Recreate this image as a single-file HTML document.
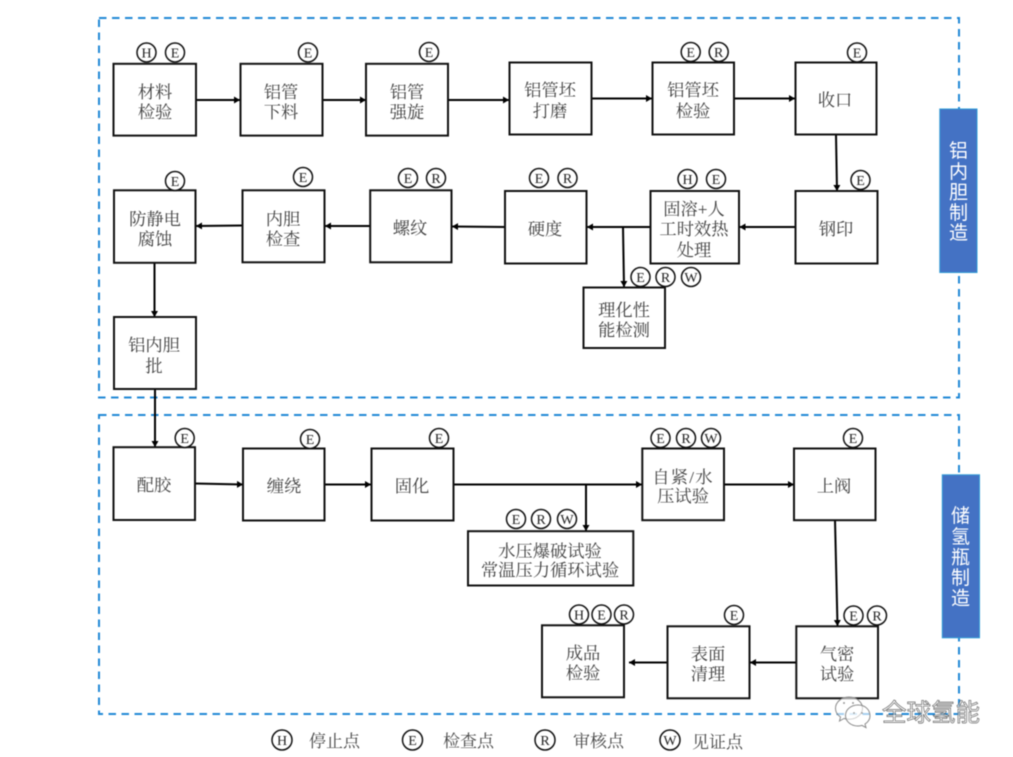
<!DOCTYPE html>
<html><head><meta charset="utf-8">
<style>
html,body{margin:0;padding:0;background:#fff;width:1013px;height:757px;overflow:hidden}
svg{display:block;filter:blur(.45px)}
.b{fill:#fff;stroke:#111;stroke-width:2}
.l{stroke:#000;stroke-width:2;fill:none;marker-end:url(#a)}
.d{fill:none;stroke:#2188d6;stroke-width:2;stroke-dasharray:7.500 5.500}
.t{font-family:"Liberation Serif","Noto Serif CJK SC",serif;font-size:17.300px;fill:#404040;text-anchor:middle}
.g{font-family:"Liberation Serif","Noto Serif CJK SC",serif;font-size:17px;fill:#454545;text-anchor:start}
.s{font-family:"Liberation Sans","Noto Sans CJK SC",sans-serif;font-size:19px;fill:#fff;text-anchor:middle}
.c circle{fill:#fff;stroke:#111;stroke-width:1.500}
.c text{font-family:"Liberation Serif",serif;font-size:14px;fill:#222;text-anchor:middle}
</style></head><body>
<svg width="1013" height="757" viewBox="0 0 1013 757" xmlns="http://www.w3.org/2000/svg">
<defs><marker id="a" markerUnits="userSpaceOnUse" markerWidth="7" markerHeight="7" refX="6" refY="3.500" orient="auto"><path d="M0 0L6 3.500L0 7Z" fill="#000"/></marker></defs>

<rect class="d" x="99" y="18" width="860" height="379.500"/>
<rect class="d" x="99" y="415" width="860" height="299"/>

<path class="l" d="M196 100H240"/>
<path class="l" d="M323 100H366"/>
<path class="l" d="M448 100H509"/>
<path class="l" d="M592 98.500H652"/>
<path class="l" d="M734 98.500H795"/>
<path class="l" d="M836 135L837 191"/>
<path class="l" d="M795 227H739.500"/>
<path class="l" d="M650 227H587"/>
<path class="l" d="M623 227L624 287"/>
<path class="l" d="M505 227L452 226.500"/>
<path class="l" d="M370 226H325"/>
<path class="l" d="M242 225.500L196 226"/>
<path class="l" d="M154.500 263V317"/>
<path class="l" d="M155 389V447"/>
<path class="l" d="M195 483.500L243 484.500"/>
<path class="l" d="M325 484.500H371"/>
<path class="l" d="M454 484.500H642"/>
<path class="l" d="M586 484.500V531"/>
<path class="l" d="M724 484.500H794"/>
<path class="l" d="M835 520L837.500 626"/>
<path class="l" d="M796 662.500H750"/>
<path class="l" d="M667 662.500H629"/>

<rect class="b" x="113.500" y="63.800" width="82.500" height="71.800"/>
<rect class="b" x="240.500" y="63.800" width="82" height="71.800"/>
<rect class="b" x="366" y="63.800" width="82" height="71.800"/>
<rect class="b" x="509.500" y="62.500" width="82" height="72"/>
<rect class="b" x="652.500" y="62.500" width="81.500" height="72"/>
<rect class="b" x="795.500" y="62.500" width="81" height="72"/>
<rect class="b" x="114" y="190.300" width="81.500" height="72.500"/>
<rect class="b" x="242.500" y="190.300" width="82" height="72"/>
<rect class="b" x="370.200" y="190.300" width="81.300" height="72"/>
<rect class="b" x="505" y="191" width="81.500" height="72.500"/>
<rect class="b" x="650.500" y="191" width="88.500" height="72.500"/>
<rect class="b" x="795.500" y="191" width="82" height="72.500"/>
<rect class="b" x="583.500" y="287.500" width="81.500" height="60.500"/>
<rect class="b" x="114" y="317" width="82" height="72"/>
<rect class="b" x="113.500" y="447.200" width="81.500" height="72.800"/>
<rect class="b" x="243" y="448.500" width="81.500" height="72"/>
<rect class="b" x="371.500" y="448.500" width="82" height="72"/>
<rect class="b" x="468" y="531.200" width="165.300" height="54.300"/>
<rect class="b" x="642.300" y="448.500" width="81.700" height="71.700"/>
<rect class="b" x="794" y="448.500" width="81.500" height="71.700"/>
<rect class="b" x="796.300" y="626.300" width="81.700" height="72"/>
<rect class="b" x="667.500" y="626.300" width="82" height="72"/>
<rect class="b" x="542" y="625.300" width="82" height="72"/>

<g transform="translate(0,1)">
<text class="t" x="155" y="97">材料</text><text class="t" x="155" y="117">检验</text>
<text class="t" x="281" y="97">铝管</text><text class="t" x="281" y="117">下料</text>
<text class="t" x="407" y="97">铝管</text><text class="t" x="407" y="117">强旋</text>
<text class="t" x="550" y="95">铝管坯</text><text class="t" x="550" y="116">打磨</text>
<text class="t" x="693" y="95">铝管坯</text><text class="t" x="693" y="116">检验</text>
<text class="t" x="835" y="105">收口</text>
<text class="t" x="155" y="224">防静电</text><text class="t" x="155" y="244">腐蚀</text>
<text class="t" x="283" y="224">内胆</text><text class="t" x="283" y="244">检查</text>
<text class="t" x="410" y="233">螺纹</text>
<text class="t" x="545" y="234">硬度</text>
<text class="t" x="694" y="214">固溶+人</text><text class="t" x="694" y="234">工时效热</text><text class="t" x="694" y="255">处理</text>
<text class="t" x="836" y="234">钢印</text>
<text class="t" x="624" y="315">理化性</text><text class="t" x="624" y="335">能检测</text>
<text class="t" x="154" y="350">铝内胆</text><text class="t" x="154" y="371">批</text>
<text class="t" x="154" y="490">配胶</text>
<text class="t" x="284" y="491">缠绕</text>
<text class="t" x="412" y="491">固化</text>
<text class="t" x="550" y="556">水压爆破试验</text><text class="t" x="550" y="575">常温压力循环试验</text>
<text class="t" x="683" y="482" style="letter-spacing:1.200px">自紧/水</text><text class="t" x="683" y="501">压试验</text>
<text class="t" x="834" y="491">上阀</text>
<text class="t" x="837" y="659">气密</text><text class="t" x="837" y="679">试验</text>
<text class="t" x="708" y="659">表面</text><text class="t" x="708" y="679">清理</text>
<text class="t" x="583" y="658">成品</text><text class="t" x="583" y="678">检验</text>
</g>

<g class="c">
<circle cx="146.500" cy="52.500" r="9.500"/><text x="146.500" y="57.500">H</text>
<circle cx="175" cy="52.500" r="9.500"/><text x="175" y="57.500">E</text>
<circle cx="308" cy="52.500" r="9.500"/><text x="308" y="57.500">E</text>
<circle cx="429" cy="52" r="9.500"/><text x="429" y="57">E</text>
<circle cx="690.700" cy="52" r="9.500"/><text x="690.700" y="57">E</text>
<circle cx="718.700" cy="52" r="9.500"/><text x="718.700" y="57">R</text>
<circle cx="857" cy="52.500" r="9.500"/><text x="857" y="57.500">E</text>
<circle cx="175" cy="181" r="9.500"/><text x="175" y="186">E</text>
<circle cx="303" cy="177" r="9.500"/><text x="303" y="182">E</text>
<circle cx="408" cy="178" r="9.500"/><text x="408" y="183">E</text>
<circle cx="436" cy="178" r="9.500"/><text x="436" y="183">R</text>
<circle cx="539" cy="178" r="9.500"/><text x="539" y="183">E</text>
<circle cx="567.500" cy="178" r="9.500"/><text x="567.500" y="183">R</text>
<circle cx="687.500" cy="179" r="9.500"/><text x="687.500" y="184">H</text>
<circle cx="716" cy="179" r="9.500"/><text x="716" y="184">E</text>
<circle cx="860.500" cy="180" r="9.500"/><text x="860.500" y="185">E</text>
<circle cx="640.500" cy="277" r="9.500"/><text x="640.500" y="282">E</text>
<circle cx="665.500" cy="277" r="9.500"/><text x="665.500" y="282">R</text>
<circle cx="691" cy="277" r="9.500"/><text x="691" y="282">W</text>
<circle cx="184.700" cy="438" r="9.500"/><text x="184.700" y="443">E</text>
<circle cx="310" cy="439" r="9.500"/><text x="310" y="444">E</text>
<circle cx="439" cy="438" r="9.500"/><text x="439" y="443">E</text>
<circle cx="516" cy="519" r="9.500"/><text x="516" y="524">E</text>
<circle cx="541" cy="519" r="9.500"/><text x="541" y="524">R</text>
<circle cx="567" cy="519" r="9.500"/><text x="567" y="524">W</text>
<circle cx="660.500" cy="438" r="9.500"/><text x="660.500" y="443">E</text>
<circle cx="686" cy="438" r="9.500"/><text x="686" y="443">R</text>
<circle cx="711" cy="438" r="9.500"/><text x="711" y="443">W</text>
<circle cx="853" cy="438" r="9.500"/><text x="853" y="443">E</text>
<circle cx="853.500" cy="615.500" r="9.500"/><text x="853.500" y="620.500">E</text>
<circle cx="877" cy="615.500" r="9.500"/><text x="877" y="620.500">R</text>
<circle cx="579" cy="614.500" r="9.500"/><text x="579" y="619.500">H</text>
<circle cx="601.500" cy="614.500" r="9.500"/><text x="601.500" y="619.500">E</text>
<circle cx="624" cy="614.500" r="9.500"/><text x="624" y="619.500">R</text>
<circle cx="734" cy="615" r="9.500"/><text x="734" y="620">E</text>
<circle cx="282" cy="740" r="10"/><text x="282" y="745">H</text>
<circle cx="412.500" cy="740" r="10"/><text x="412.500" y="745">E</text>
<circle cx="545" cy="740" r="10"/><text x="545" y="745">R</text>
<circle cx="670" cy="740" r="10"/><text x="670" y="745">W</text>
</g>

<text class="g" x="309" y="747">停止点</text>
<text class="g" x="443" y="747">检查点</text>
<text class="g" x="573" y="747">审核点</text>
<text class="g" x="692" y="748">见证点</text>

<rect x="939.800" y="109" width="37.200" height="163.500" fill="#4472c4" stroke="#2e9bd6" stroke-width="1"/>
<rect x="942.300" y="474.800" width="37.200" height="163" fill="#4472c4" stroke="#2e9bd6" stroke-width="1"/>
<text class="s" x="958.500" y="157">铝</text>
<text class="s" x="958.500" y="178">内</text>
<text class="s" x="958.500" y="198.500">胆</text>
<text class="s" x="958.500" y="219">制</text>
<text class="s" x="958.500" y="239">造</text>
<text class="s" x="960.500" y="522">储</text>
<text class="s" x="960.500" y="543">氢</text>
<text class="s" x="960.500" y="563.500">瓶</text>
<text class="s" x="960.500" y="584">制</text>
<text class="s" x="960.500" y="604.500">造</text>

<g fill="#fff" fill-opacity=".6" stroke="#8a8a8a" stroke-width="1">
<path d="M849 697c-7.500 0-13.500 5-13.500 11.500c0 3.500 2 6.500 5 8.500l-1 4l4.500-2.500c2 .5 3.500 .8 5 .8c7.500 0 13.500-5 13.500-11S856.500 697 849 697Z"/>
<path d="M858 705c-7 0-12.500 4.500-12.500 10.500S851 726 858 726c1.500 0 2.500-.2 4-.6l4 2.200l-1-3.500c3-2 5-4.800 5-8.100C870 709.500 865 705 858 705Z"/>
</g>
<g fill="#999"><circle cx="844" cy="703" r="1"/><circle cx="853" cy="703" r="1"/><circle cx="854" cy="713" r=".9"/><circle cx="862" cy="713" r=".9"/></g>
<text x="882" y="721" font-family="'Liberation Sans','Noto Sans CJK SC',sans-serif" font-size="24.500" fill="#fff" fill-opacity=".55" stroke="#6a6a6a" stroke-width=".7">全球氢能</text>
</svg>
</body></html>
